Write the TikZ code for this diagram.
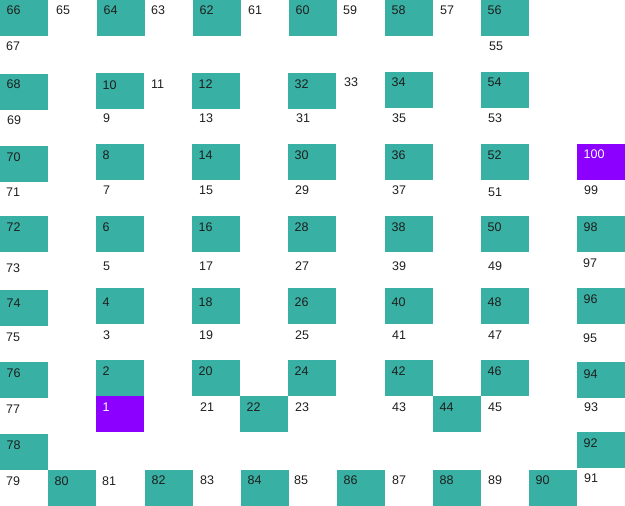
\documentclass[tikz,border=0pt]{standalone}
\usepackage{fontspec}
\setmainfont{Liberation Sans}
\definecolor{tealc}{RGB}{56,176,163}
\definecolor{purp}{RGB}{139,0,255}
\definecolor{numc}{RGB}{30,30,30}
\tikzset{
  tbox/.style={rectangle, fill=tealc, draw=none, minimum width=48pt, minimum height=36pt, inner sep=0pt, anchor=north west},
  pbox/.style={tbox, fill=purp},
  num/.style={font=\fontsize{12.5}{14}\selectfont, text=numc, anchor=base west, inner sep=0pt},
  wnum/.style={num, text=white}
}
\newcommand\tcell[4]{\node[tbox] (b#4) at (#1,#2) {}; \node[num] (t#4) at (#1+6.5,#3) {#4};}
\newcommand\pcell[4]{\node[pbox] (b#4) at (#1,#2) {}; \node[wnum] (t#4) at (#1+6.5,#3) {#4};}
\newcommand\olab[3]{\node[num] (t#3) at (#1,#2) {#3};}
\begin{document}
\begin{tikzpicture}[x=1pt,y=-1pt]
\useasboundingbox (0,0) rectangle (625,506);
% row A
\tcell{0}{0}{14}{66}
\tcell{97}{0}{14}{64}
\tcell{193}{0}{14}{62}
\tcell{289}{0}{14}{60}
\tcell{385}{0}{14}{58}
\tcell{481}{0}{14}{56}
\olab{56}{14}{65}
\olab{151}{14}{63}
\olab{248}{14}{61}
\olab{343}{14}{59}
\olab{440}{14}{57}
\olab{6}{50}{67}
\olab{489}{50}{55}
% row B
\tcell{0}{74}{88}{68}
\tcell{96}{73}{89}{10}
\tcell{192}{73}{88}{12}
\tcell{288}{73}{88}{32}
\tcell{385}{72}{86}{34}
\tcell{481}{72}{86}{54}
\olab{151}{88}{11}
\olab{344}{86}{33}
\olab{7}{124}{69}
\olab{103}{122}{9}
\olab{199}{122}{13}
\olab{296}{122}{31}
\olab{392}{122}{35}
\olab{488}{122}{53}
% row C
\tcell{0}{146}{161}{70}
\tcell{96}{144}{159}{8}
\tcell{192}{144}{159}{14}
\tcell{288}{144}{159}{30}
\tcell{385}{144}{159}{36}
\tcell{481}{144}{159}{52}
\pcell{577}{144}{158}{100}
\olab{6}{196}{71}
\olab{103}{194}{7}
\olab{199}{194}{15}
\olab{295}{194}{29}
\olab{392}{194}{37}
\olab{488}{196}{51}
\olab{584}{194}{99}
% row D
\tcell{0}{216}{231}{72}
\tcell{96}{216}{231}{6}
\tcell{192}{216}{231}{16}
\tcell{288}{216}{231}{28}
\tcell{385}{216}{231}{38}
\tcell{481}{216}{231}{50}
\tcell{577}{216}{231}{98}
\olab{6}{272}{73}
\olab{103}{270}{5}
\olab{199}{270}{17}
\olab{295}{270}{27}
\olab{392}{270}{39}
\olab{488}{270}{49}
\olab{583}{267}{97}
% row E
\tcell{0}{290}{307}{74}
\tcell{96}{288}{306}{4}
\tcell{192}{288}{306}{18}
\tcell{288}{288}{306}{26}
\tcell{385}{288}{306}{40}
\tcell{481}{288}{306}{48}
\tcell{577}{288}{303}{96}
\olab{6}{341}{75}
\olab{103}{339}{3}
\olab{199}{339}{19}
\olab{295}{339}{25}
\olab{392}{339}{41}
\olab{488}{339}{47}
\olab{583}{342}{95}
% row F
\tcell{0}{362}{377}{76}
\tcell{96}{360}{375}{2}
\tcell{192}{360}{375}{20}
\tcell{288}{360}{375}{24}
\tcell{385}{360}{375}{42}
\tcell{481}{360}{375}{46}
\tcell{577}{362}{378}{94}
\pcell{96}{396}{411}{1}
\tcell{240}{396}{411}{22}
\tcell{433}{396}{411}{44}
\olab{6}{413}{77}
\olab{200}{411}{21}
\olab{295}{411}{23}
\olab{392}{411}{43}
\olab{488}{411}{45}
\olab{584}{411}{93}
% row G
\tcell{0}{434}{449}{78}
\tcell{577}{432}{447}{92}
% row H
\tcell{48}{470}{485}{80}
\tcell{145}{470}{484}{82}
\tcell{241}{470}{484}{84}
\tcell{337}{470}{484}{86}
\tcell{433}{470}{484}{88}
\tcell{529}{470}{484}{90}
\olab{6}{485}{79}
\olab{102}{485}{81}
\olab{200}{484}{83}
\olab{294}{484}{85}
\olab{392}{484}{87}
\olab{488}{484}{89}
\olab{584}{482}{91}
\end{tikzpicture}
\end{document}
